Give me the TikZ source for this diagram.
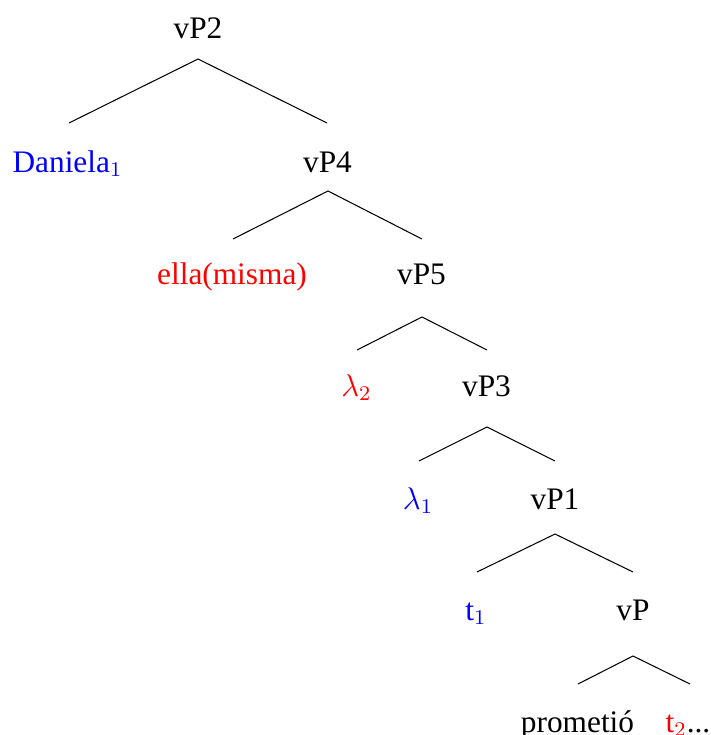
\documentclass[tikz,border=0pt]{standalone}
\usepackage{fontspec}
\setmainfont{Liberation Serif}
\begin{document}
\begin{tikzpicture}[x=0.383pt,y=-0.383pt,
  lbl/.style={anchor=base,inner sep=0pt,font=\fontsize{12}{14}\selectfont},
  edge/.style={draw=black,line width=0.4pt},
  bl/.style={text={rgb,255:red,0;green,0;blue,255}},
  rd/.style={text={rgb,255:red,255;green,0;blue,0}}]
\useasboundingbox (0,0) rectangle (711,735);
% nodes
\node[lbl] (vP2) at (198,38) {vP2};
\node[lbl,bl] (dan) at (67.5,172) {Daniela$_1$};
\node[lbl] (vP4) at (327.5,172) {vP4};
\node[lbl,rd] (ella) at (232,284) {ella(misma)};
\node[lbl] (vP5) at (421.5,284) {vP5};
\node[lbl,rd] (lam2) at (356.5,396) {$\lambda_2$};
\node[lbl] (vP3) at (486.5,396) {vP3};
\node[lbl,bl] (lam1) at (418,509) {$\lambda_1$};
\node[lbl] (vP1) at (555,509) {vP1};
\node[lbl,bl] (t1) at (476,620) {t$_1$};
\node[lbl] (vP) at (633,620) {vP};
\node[lbl] (prom) at (577.5,732) {prometió};
\node[lbl] (t2) at (688,732) {\textcolor[rgb]{1,0,0}{t$_2$}...};
% connector points
\coordinate (a2) at (198,59);  \coordinate (a2l) at (69,123);  \coordinate (a2r) at (327,123);
\coordinate (a4) at (328,191); \coordinate (a4l) at (233,239); \coordinate (a4r) at (422,239);
\coordinate (a5) at (422,317); \coordinate (a5l) at (357,350); \coordinate (a5r) at (487,350);
\coordinate (a3) at (487,427); \coordinate (a3l) at (419,461); \coordinate (a3r) at (555,461);
\coordinate (a1) at (555,534); \coordinate (a1l) at (477,572); \coordinate (a1r) at (633,572);
\coordinate (a0) at (633,656); \coordinate (a0l) at (578,684); \coordinate (a0r) at (690,684);
\draw[edge] (a2l) -- (a2) -- (a2r);
\draw[edge] (a4l) -- (a4) -- (a4r);
\draw[edge] (a5l) -- (a5) -- (a5r);
\draw[edge] (a3l) -- (a3) -- (a3r);
\draw[edge] (a1l) -- (a1) -- (a1r);
\draw[edge] (a0l) -- (a0) -- (a0r);
\end{tikzpicture}
\end{document}
